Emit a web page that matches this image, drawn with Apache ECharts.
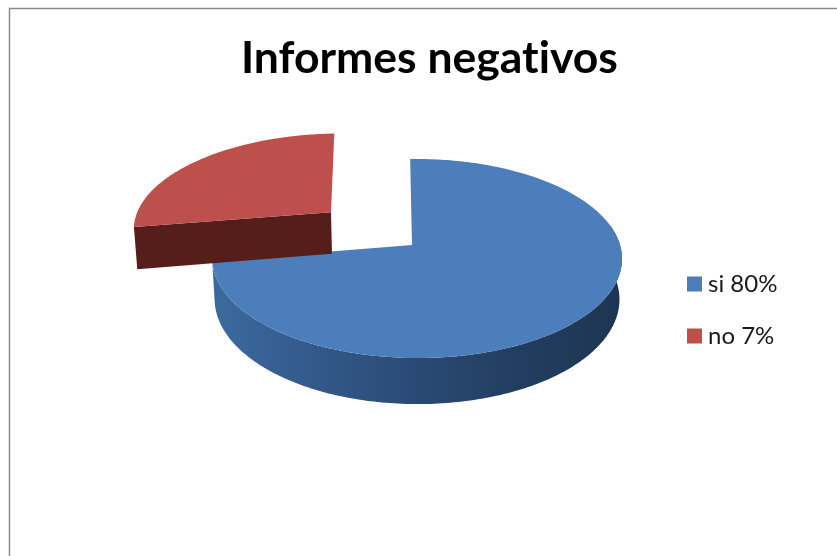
<!DOCTYPE html>
<html><head><meta charset="utf-8">
<style>html,body{margin:0;padding:0;background:#fff}#c{width:837px;height:556px}</style>
<script src="https://cdn.jsdelivr.net/npm/echarts@6/dist/echarts.min.js"></script>
</head><body><div id="c"></div>
<script>
const titleText = 'Informes negativos';
const categories = ['si 80%', 'no 7%'];
const values = [73, 27];
const topColors = ['#4c7ebb', '#bd4f4c'];

// Plain glyphs, no "ti" ligature, as in the reference.
const getCtx = HTMLCanvasElement.prototype.getContext;
HTMLCanvasElement.prototype.getContext = function () {
  const ctx = getCtx.apply(this, arguments);
  if (ctx && 'textRendering' in ctx) ctx.textRendering = 'optimizeSpeed';
  return ctx;
};

// View of the tilted disc: a perspective mapping from disc space to the page.
const view = {cx: 412, cy: 245, rx: 203, ry: 97.7, persp: 0.1357, depth: 39.8, bottomScale: 0.988, startDeg: -2};
// Each slice is pulled out of the disc, expressed in disc units.
const slicePull = [{du: 0, dv: 0, rimDu: 0.0246, depthScale: 1}, {du: -0.418, dv: -0.35, rimDu: 0, depthScale: 1.09}];

function project(u, v, lower, depthScale) {
  const w = 1 - view.persp * v;
  const s = lower ? view.bottomScale : 1;
  return [view.cx + s * view.rx * u / w, view.cy + view.ry * v / w + (lower ? view.depth * depthScale / w : 0)];
}
function rimPoint(deg, pull, lower) {
  const a = deg * Math.PI / 180;
  return project(Math.sin(a) + pull.du + pull.rimDu, -Math.cos(a) + pull.dv, lower, pull.depthScale);
}
function arc(from, to, pull, lower) {
  const pts = [], n = Math.max(2, Math.ceil(Math.abs(to - from)));
  for (let i = 0; i <= n; i++) pts.push(rimPoint(from + (to - from) * i / n, pull, lower));
  return pts;
}
const total = values.reduce((a, b) => a + b, 0);
function sliceAngles(i) {
  let before = 0;
  for (let k = 0; k < i; k++) before += values[k];
  return [view.startDeg + before / total * 360, view.startDeg + (before + values[i]) / total * 360];
}
function grad(stops) {
  return new echarts.graphic.LinearGradient(0, 0, 1, 0, stops.map((c, i) => ({offset: i / (stops.length - 1), color: c})));
}
function renderSlice(params, api) {
  const i = params.seriesIndex;
  const [a0, a1] = sliceAngles(i);
  const pull = slicePull[i];
  const apex = project(pull.du, pull.dv, false, pull.depthScale);
  const apexLow = project(pull.du, pull.dv, true, pull.depthScale);
  const children = [];
  if (i === 0) {
    const from = 78;
    const pts = arc(from, a1, pull, false).concat(arc(from, a1, pull, true).reverse());
    children.push({type: 'polygon', shape: {points: pts},
      style: {fill: grad(['#3c6a9f', '#33598a', '#2a4a74', '#223d60', '#1d3552'])}});
  } else {
    const pts = [apex, rimPoint(a0, pull, false), rimPoint(a0, pull, true), apexLow];
    children.push({type: 'polygon', shape: {points: pts}, style: {fill: '#561e1a'}});
  }
  children.push({type: 'polygon', shape: {points: [apex].concat(arc(a0, a1, pull, false))},
    style: {fill: topColors[i]}});
  return {type: 'group', children};
}
const chart = echarts.init(document.getElementById('c'), null, {renderer: 'canvas'});
chart.setOption({
  animation: false,
  backgroundColor: '#ffffff',
  title: {text: titleText, left: 236, top: 31, itemGap: 0,
    textStyle: {fontFamily: 'Lato', fontWeight: 'bold', fontSize: 44.5, color: '#000'}},
  legend: {orient: 'vertical', left: 682, top: 267, itemWidth: 15, itemHeight: 15, itemGap: 28, icon: 'rect',
    data: categories, selectedMode: false,
    textStyle: {fontFamily: 'Lato', fontSize: 24, color: '#1a1a1a', padding: [0, 0, 0, 1]}},
  graphic: [{type: 'polyline', silent: true, z: -1,
    shape: {points: [[9.5, 556], [9.5, 8.5], [837, 8.5]]},
    style: {stroke: '#8a8a8a', lineWidth: 1.5, fill: null}}],
  series: categories.map((name, i) => ({
    type: 'custom', name, coordinateSystem: 'none', silent: true,
    itemStyle: {color: topColors[i]},
    renderItem: renderSlice,
    data: [[values[i]]]
  }))
});
</script></body></html>
